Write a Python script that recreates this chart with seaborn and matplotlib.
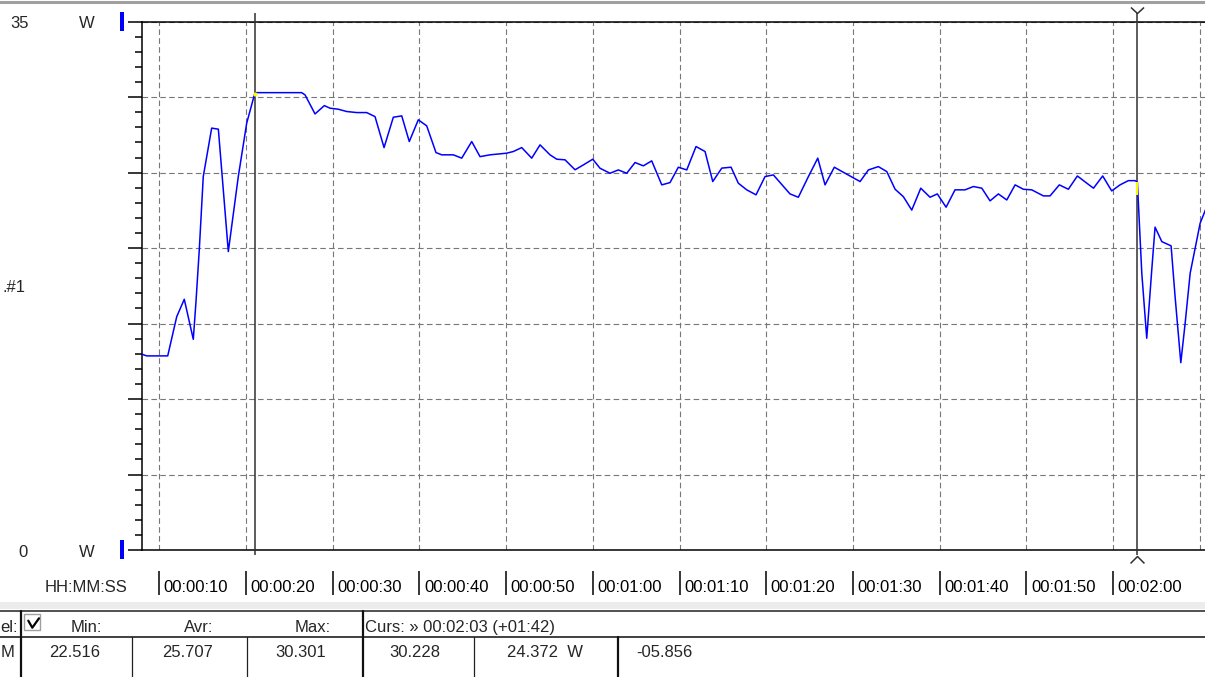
import matplotlib
matplotlib.use('Agg')
import pandas as pd
import seaborn as sns
import matplotlib.pyplot as plt
from matplotlib.lines import Line2D
from matplotlib.patches import Rectangle
from matplotlib.transforms import ScaledTranslation

# power trace (seconds, watts)
seconds = [8.0, 8.55, 10.97, 12.01, 12.88, 13.92, 14.23, 14.61, 15.07, 16.04,
           16.81, 17.96, 19.11, 20.08, 21.0, 21.2, 26.42, 26.81, 27.96, 29.03,
           29.69, 30.65, 31.61, 32.77, 33.92, 34.88, 35.92, 36.99, 37.96, 38.83,
           39.87, 40.84, 41.91, 42.57, 43.91, 44.88, 46.03, 46.99, 48.14, 50.07,
           50.83, 51.80, 52.95, 53.91, 55.06, 55.84, 56.79, 57.95, 58.90, 59.99,
           60.83, 61.98, 62.94, 63.91, 64.87, 65.82, 66.79, 67.95, 68.90, 69.86,
           70.83, 71.90, 72.94, 73.83, 74.87, 75.94, 76.78, 77.75, 78.82, 79.86,
           80.82, 82.74, 83.70, 84.86, 85.94, 86.78, 87.85, 89.09, 90.82, 91.78,
           92.93, 93.90, 94.86, 95.81, 96.78, 97.82, 98.89, 99.73, 100.74, 101.77,
           102.92, 103.89, 104.86, 105.81, 106.77, 107.74, 108.70, 109.65, 110.62, 111.96,
           112.73, 113.80, 114.84, 115.88, 116.88, 117.74, 118.80, 119.84, 120.80, 121.76,
           122.53, 122.80, 123.03, 123.31, 123.88, 124.46, 124.84, 125.62, 126.69, 127.15,
           127.81, 128.31, 128.89, 130.04, 130.70]
watts = [12.97, 12.86, 12.86, 15.46, 16.61, 13.96, 16.45, 19.88, 24.74, 27.95,
         27.88, 19.77, 24.74, 28.28, 30.23, 30.30, 30.30, 30.15, 28.89, 29.44,
         29.27, 29.20, 29.05, 28.98, 28.98, 28.71, 26.66, 28.67, 28.76, 27.06,
         28.50, 28.10, 26.33, 26.18, 26.18, 25.96, 27.06, 26.06, 26.18, 26.29,
         26.40, 26.66, 25.96, 26.84, 26.18, 25.89, 25.85, 25.19, 25.51, 25.89,
         25.29, 24.96, 25.18, 24.96, 25.67, 25.45, 25.78, 24.19, 24.34, 25.36,
         25.18, 26.73, 26.40, 24.41, 25.30, 25.36, 24.30, 23.86, 23.53, 24.74,
         24.85, 23.59, 23.37, 24.74, 25.96, 24.19, 25.36, 24.96, 24.41, 25.18,
         25.40, 25.07, 23.90, 23.41, 22.52, 23.97, 23.37, 23.59, 22.71, 23.86,
         23.86, 24.08, 23.97, 23.13, 23.59, 23.19, 24.19, 23.90, 23.86, 23.46,
         23.46, 24.19, 23.90, 24.78, 24.34, 23.97, 24.78, 23.79, 24.19, 24.47,
         24.47, 24.37, 21.65, 18.34, 14.03, 18.56, 21.39, 20.43, 20.15, 16.79,
         12.41, 15.02, 18.34, 21.65, 22.60]

grid_secs = list(range(10, 131, 10))
tick_secs = list(range(10, 121, 10))
tick_labels = ['00:00:10', '00:00:20', '00:00:30', '00:00:40', '00:00:50', '00:01:00',
               '00:01:10', '00:01:20', '00:01:30', '00:01:40', '00:01:50', '00:02:00']
cursor_secs = [21.0, 122.8]
cursor_watts = [30.228, 24.372]

header_cells = ['el:', 'Min:', 'Avr:', 'Max:', 'Curs: \u00bb 00:02:03 (+01:42)']
value_cells = ['M', '22.516', '25.707', '30.301', '30.228', '24.372  W', '-05.856']

W, H = 1205, 677


def fx(x):
    return x / W


def fy(y):
    return 1 - y / H


sns.set_theme(style='white')
plt.rcParams['font.family'] = ['Liberation Sans', 'DejaVu Sans']

fig = plt.figure(figsize=(12.05, 6.77), dpi=100)
fig.patch.set_facecolor('white')

ax_top, ax_bot, ax_left = 21.7, 550, 141.7
ax_h = ax_bot - ax_top
ax = fig.add_axes([fx(ax_left), fy(ax_bot), 1 - fx(ax_left), ax_h / H])
ax.set_facecolor('white')

df = pd.DataFrame({'seconds': seconds, 'watts': watts})
sns.lineplot(data=df, x='seconds', y='watts', ax=ax, color='#0000ff',
             linewidth=1.1, estimator=None, zorder=4)

ax.set_xlim(7.97, 130.6)
ax.set_ylim(0, 35)
ax.set_xlabel('')
ax.set_ylabel('')

ax.set_xticks(grid_secs)
ax.set_xticklabels([])
ax.tick_params(axis='x', length=0)
ax.set_yticks(range(0, 36, 5))
ax.set_yticks(range(0, 36), minor=True)
ax.set_yticklabels([])
ax.tick_params(axis='y', which='major', left=True, direction='out', length=10,
               width=1.1, color='black')
ax.tick_params(axis='y', which='minor', left=True, direction='out', length=5,
               width=1.1, color='black')

ax.grid(True, which='major', color='#777777', linewidth=0.8, linestyle=(0, (5, 3)))
ax.set_axisbelow(True)

for side in ['left', 'top', 'bottom']:
    ax.spines[side].set_color('black')
    ax.spines[side].set_linewidth(1.1)
ax.spines['right'].set_visible(False)

# time labels with their little bars
xt = ax.get_xaxis_transform()
lab_trans = xt + ScaledTranslation(0.045, 0, fig.dpi_scale_trans)
for t, lab in zip(tick_secs, tick_labels):
    ax.text(t, (ax_bot - 591.7) / ax_h, lab, transform=lab_trans, ha='left',
            va='baseline', fontsize=12, color='black')
ax.vlines(tick_secs, (ax_bot - 571) / ax_h, (ax_bot - 595) / ax_h, transform=xt,
          color='black', linewidth=1.1, clip_on=False)

# cursors
ax.vlines(cursor_secs, -0.0095, 1.0165, transform=xt, color='#303030',
          linewidth=1.1, clip_on=False, zorder=3)
ax.plot([cursor_secs[1]], [1.0159], transform=xt, clip_on=False, ls='none',
        marker=[(-1, 0.92), (0, 0), (1, 0.92)], ms=9.4, mfc='none', mec='#303030', mew=1.1)
ax.plot([cursor_secs[1]], [-0.0114], transform=xt, clip_on=False, ls='none',
        marker=[(-1, -1), (0, 0), (1, -1)], ms=10, mfc='none', mec='#303030', mew=1.1)
ax.plot([cursor_secs[0]], [cursor_watts[0]], ls='none', marker='o', ms=2,
        mfc='yellow', mec='yellow', zorder=5)
ax.plot([cursor_secs[1]], [cursor_watts[1]], ls='none', marker=[(0, 0), (0, -1)],
        ms=18.7, mfc='none', mec='yellow', mew=1.4, zorder=5)

# left scale labels
fs = 12
fig.text(fx(29), fy(28.3), '35', ha='right', va='baseline', fontsize=fs)
fig.text(fx(79), fy(28.3), 'W', ha='left', va='baseline', fontsize=fs)
fig.text(fx(28), fy(556.7), '0', ha='right', va='baseline', fontsize=fs)
fig.text(fx(79), fy(556.7), 'W', ha='left', va='baseline', fontsize=fs)
fig.text(fx(2), fy(292), '.#1', ha='left', va='baseline', fontsize=fs)
fig.text(fx(45), fy(591.7), 'HH:MM:SS', ha='left', va='baseline', fontsize=fs)
for y0, y1 in [(12.3, 31), (540, 559.3)]:
    fig.add_artist(Rectangle((fx(119.5), fy(y1)), fx(4.5), (y1 - y0) / H,
                             transform=fig.transFigure, color='#0000ff', lw=0))

# window frame at top
fig.add_artist(Line2D([0, 1], [fy(1.5), fy(1.5)], color='#a0a0a0', lw=2.2))

# statistics table underneath
fig.add_artist(Rectangle((0, fy(609)), 1, 7 / H, transform=fig.transFigure,
                         color='#ececec', lw=0))
fig.add_artist(Line2D([0, 1], [fy(610.8), fy(610.8)], color='#505050', lw=1.4))
fig.add_artist(Line2D([0, 1], [fy(636.5), fy(636.5)], color='#202020', lw=1.2))
for x in [20.7, 362.5]:
    fig.add_artist(Line2D([fx(x), fx(x)], [fy(611), 0], color='#101010', lw=1.6))
fig.add_artist(Line2D([fx(618), fx(618)], [fy(636.5), 0], color='#101010', lw=1.6))
for x in [132.3, 246.7, 474]:
    fig.add_artist(Line2D([fx(x), fx(x)], [fy(636.5), 0], color='#202020', lw=0.9))

fig.add_artist(Rectangle((fx(24), fy(630)), fx(16), 16 / H, transform=fig.transFigure,
                         facecolor='white', edgecolor='#a0a0a0', lw=1))
fig.add_artist(Line2D([fx(28.3), fx(32.3), fx(39)], [fy(620.7), fy(627.7), fy(618.3)],
                      color='black', lw=1.6))

header_x = [(0.5, 'left'), (86, 'center'), (199, 'center'), (313, 'center'), (365, 'left')]
for (x, ha), txt in zip(header_x, header_cells):
    fig.text(fx(x), fy(631.7), txt, ha=ha, va='baseline', fontsize=fs)
value_x = [(0.5, 'left'), (75, 'center'), (188, 'center'), (301, 'center'),
           (414.5, 'center'), (545, 'center'), (636, 'left')]
for (x, ha), txt in zip(value_x, value_cells):
    fig.text(fx(x), fy(656.7), txt, ha=ha, va='baseline', fontsize=fs)

plt.savefig('out.png', dpi=100)
